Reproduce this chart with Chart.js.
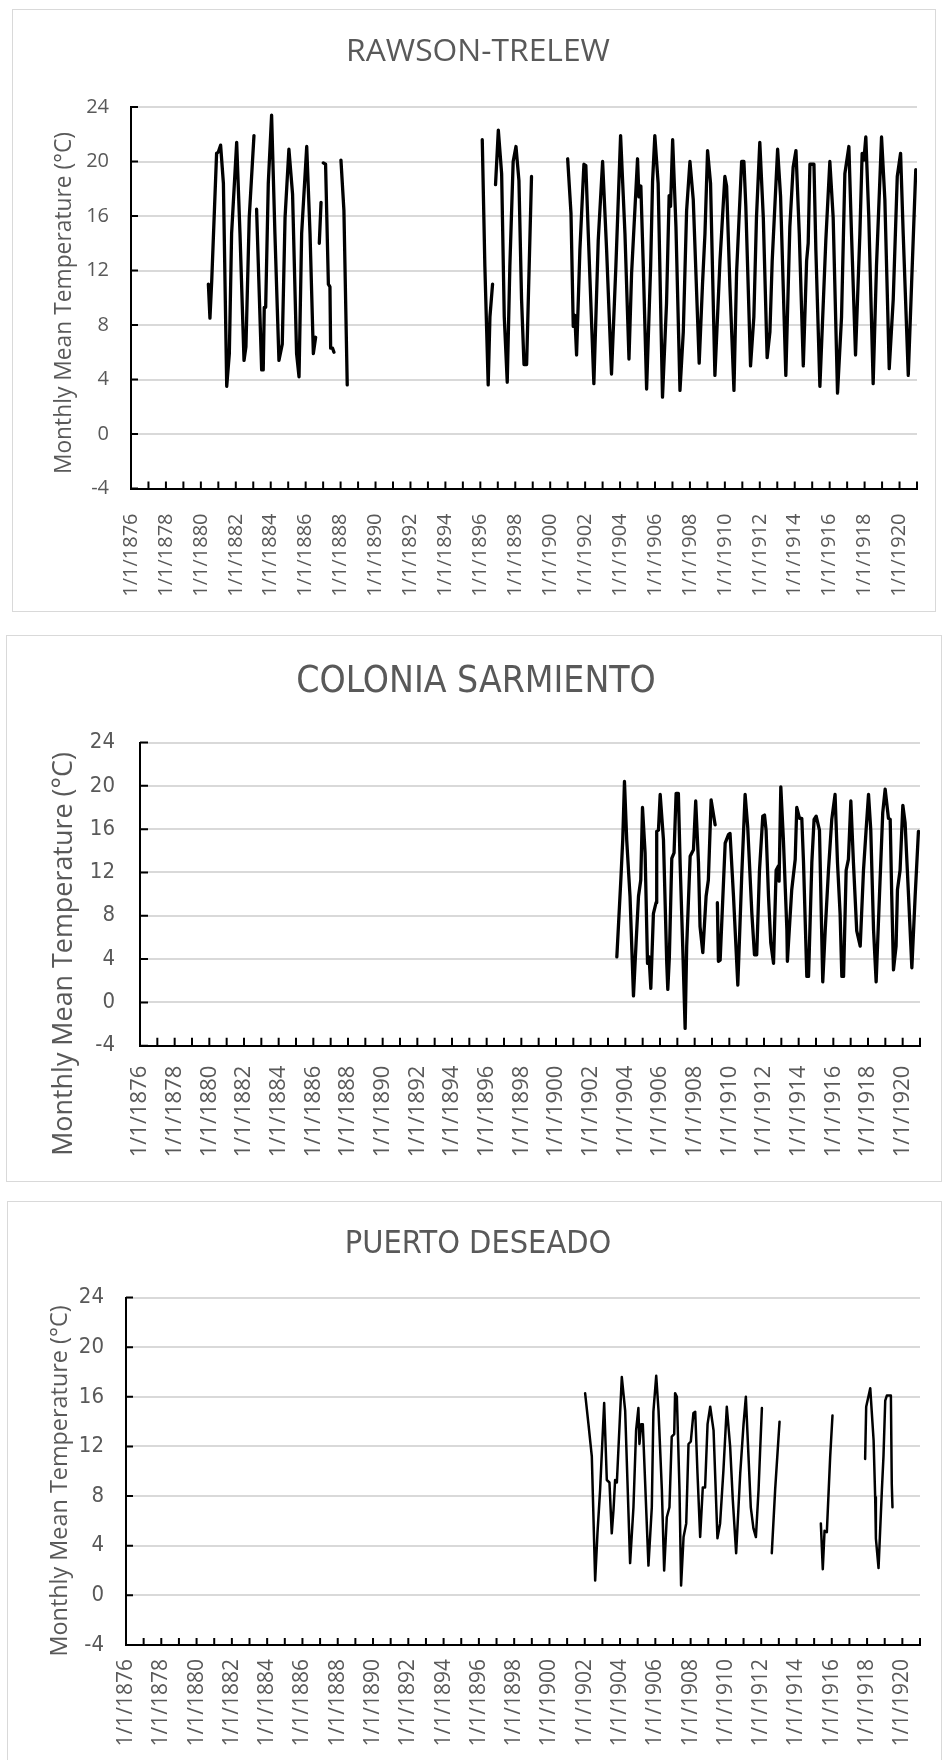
<!DOCTYPE html>
<html>
<head>
<meta charset="utf-8">
<script src="https://cdn.jsdelivr.net/npm/chart.js@4.4.1/dist/chart.umd.min.js"></script>
<style>
  body { margin: 0; background: #fff; }
  #page { position: relative; width: 943px; height: 1760px; overflow: hidden; }
  .frame { position: absolute; border: 1px solid #d9d9d9; box-sizing: border-box; }
  canvas { position: absolute; left: 0; }
</style>
</head>
<body>
<div id="page">
  <div class="frame" style="left:12px;top:9px;width:924px;height:603px"></div>
  <div class="frame" style="left:6px;top:635px;width:936px;height:547px"></div>
  <div class="frame" style="left:7px;top:1201px;width:935px;height:600px"></div>
  <canvas id="c1" width="943" height="620" style="top:0"></canvas>
  <canvas id="c2" width="943" height="570" style="top:620px"></canvas>
  <canvas id="c3" width="943" height="570" style="top:1190px"></canvas>
</div>
<script>
// eje x: etiquetas cada 2 años, marcas cada año
const xTickYears = [1876, 1878, 1880, 1882, 1884, 1886, 1888, 1890, 1892, 1894, 1896, 1898,
    1900, 1902, 1904, 1906, 1908, 1910, 1912, 1914, 1916, 1918, 1920];
const yTickValues = [-4, 0, 4, 8, 12, 16, 20, 24];
const yearMarks = [];
for (let y = 1876; y <= 1921; y++) yearMarks.push(y);

// RAWSON-TRELEW (null = sin datos)
const rawsonYears = [
    1880.43, 1880.52, 1880.62, 1880.90, 1881.00, 1881.13, 1881.29, 1881.48, 1881.63, 1881.76,
    1882.05, 1882.24, 1882.47, 1882.58, 1882.77, 1883.04, 1883.11, 1883.19, 1883.48, 1883.57,
    1883.63, 1883.71, 1883.86, 1884.05, 1884.24, 1884.47, 1884.66, 1884.82, 1885.04, 1885.25,
    1885.48, 1885.62, 1885.77, 1886.06, 1886.25, 1886.44, 1886.57, 1886.67, 1886.78, 1886.88,
    1886.95, 1887.01, 1887.14, 1887.30, 1887.39, 1887.43, 1887.54, 1887.62, 1887.80, 1888.02,
    1888.19, 1888.38, 1892.00, 1896.11, 1896.26, 1896.45, 1896.55, 1896.70, 1896.78, 1896.87,
    1897.03, 1897.22, 1897.37, 1897.54, 1897.69, 1897.88, 1898.04, 1898.21, 1898.36, 1898.50,
    1898.65, 1898.93, 1900.00, 1901.00, 1901.19, 1901.32, 1901.41, 1901.51, 1901.70, 1901.93,
    1902.04, 1902.18, 1902.50, 1902.75, 1903.00, 1903.23, 1903.51, 1903.76, 1904.03, 1904.28,
    1904.51, 1904.66, 1905.00, 1905.08, 1905.19, 1905.33, 1905.52, 1905.75, 1905.86, 1905.99,
    1906.18, 1906.43, 1906.66, 1906.81, 1906.89, 1907.01, 1907.20, 1907.43, 1907.62, 1907.81,
    1908.00, 1908.19, 1908.53, 1908.72, 1908.86, 1909.01, 1909.18, 1909.43, 1909.72, 1910.00,
    1910.10, 1910.29, 1910.52, 1910.67, 1910.96, 1911.09, 1911.20, 1911.47, 1911.66, 1911.81,
    1912.00, 1912.20, 1912.42, 1912.58, 1912.71, 1913.02, 1913.19, 1913.49, 1913.72, 1913.91,
    1914.07, 1914.26, 1914.49, 1914.68, 1914.77, 1914.87, 1915.10, 1915.21, 1915.44, 1915.78,
    1916.01, 1916.20, 1916.45, 1916.68, 1916.87, 1917.10, 1917.25, 1917.48, 1917.73, 1917.86,
    1917.96, 1918.07, 1918.24, 1918.49, 1918.68, 1918.97, 1919.16, 1919.41, 1919.64, 1919.87,
    1920.06, 1920.21, 1920.50, 1920.69, 1920.93
];
const rawsonTemps = [
    11.0, 8.5, 11.2, 20.6, 20.7, 21.2, 18.4, 3.5, 5.9, 14.7,
    21.4, 14.7, 5.4, 6.4, 15.9, 21.9, null, 16.5, 4.7, 4.7,
    9.3, 9.3, 18.4, 23.4, 14.7, 5.4, 6.6, 15.9, 20.9, 17.6,
    5.9, 4.2, 14.7, 21.1, 14.7, 5.9, 7.1, null, 14.0, 17.0,
    null, 19.9, 19.8, 11.0, 10.8, 6.3, 6.3, 6.0, null, 20.1,
    16.4, 3.6, null, 21.6, 12.3, 3.6, 8.6, 11.0, null, 18.3,
    22.3, 19.1, 8.6, 3.8, 12.3, 20.0, 21.1, 18.6, 9.9, 5.1,
    5.1, 18.9, null, 20.2, 16.2, 7.9, 8.7, 5.8, 13.5, 19.8,
    19.7, 14.7, 3.7, 14.2, 20.0, 13.5, 4.4, 12.3, 21.9, 14.7,
    5.5, 11.8, 20.2, 17.4, 18.2, 12.3, 3.3, 12.3, 18.5, 21.9,
    18.4, 2.7, 9.6, 17.5, 16.7, 21.6, 15.2, 3.2, 7.5, 16.4,
    20.0, 17.2, 5.2, 11.0, 14.7, 20.8, 18.4, 4.3, 12.7, 18.9,
    18.2, 10.8, 3.2, 11.8, 20.0, 20.0, 16.7, 5.0, 8.6, 15.9,
    21.4, 15.9, 5.6, 7.5, 12.7, 20.9, 17.4, 4.3, 15.2, 19.6,
    20.8, 14.7, 5.0, 12.7, 14.0, 19.8, 19.8, 13.5, 3.5, 14.2,
    20.0, 15.9, 3.0, 8.6, 19.1, 21.1, 14.7, 5.8, 14.7, 20.6,
    20.1, 21.8, 15.9, 3.7, 12.3, 21.8, 17.2, 4.8, 9.9, 18.9,
    20.6, 14.7, 4.3, 11.0, 19.4
];

// COLONIA SARMIENTO
const sarmientoYears = [
    1903.51, 1903.74, 1903.85, 1903.95, 1904.08, 1904.27, 1904.47, 1904.62, 1904.76, 1904.89,
    1904.99, 1905.14, 1905.28, 1905.37, 1905.47, 1905.62, 1905.77, 1905.81, 1905.91, 1906.01,
    1906.20, 1906.39, 1906.45, 1906.54, 1906.68, 1906.81, 1906.93, 1907.06, 1907.16, 1907.31,
    1907.45, 1907.54, 1907.74, 1907.93, 1908.06, 1908.22, 1908.31, 1908.47, 1908.66, 1908.79,
    1908.95, 1909.18, 1909.25, 1909.31, 1909.37, 1909.47, 1909.76, 1909.95, 1910.04, 1910.24,
    1910.49, 1910.72, 1910.91, 1911.06, 1911.30, 1911.45, 1911.58, 1911.74, 1911.93, 1912.03,
    1912.12, 1912.26, 1912.39, 1912.55, 1912.70, 1912.83, 1912.87, 1912.97, 1913.12, 1913.32,
    1913.35, 1913.60, 1913.80, 1913.89, 1914.05, 1914.18, 1914.28, 1914.47, 1914.57, 1914.76,
    1914.89, 1915.01, 1915.20, 1915.39, 1915.53, 1915.72, 1915.91, 1916.10, 1916.24, 1916.39,
    1916.49, 1916.59, 1916.74, 1916.87, 1917.01, 1917.16, 1917.35, 1917.55, 1917.74, 1917.89,
    1918.03, 1918.16, 1918.32, 1918.47, 1918.66, 1918.85, 1918.99, 1919.18, 1919.28, 1919.37,
    1919.47, 1919.62, 1919.70, 1919.85, 1920.01, 1920.14, 1920.34, 1920.53, 1920.72, 1920.91
];
const sarmientoTemps = [
    4.2, 11.3, 15.0, 20.4, 15.0, 9.8, 0.6, 5.5, 9.8, 11.3,
    18.0, 13.8, 3.6, 4.2, 1.3, 8.2, 9.2, 15.8, 15.9, 19.2,
    15.0, 3.6, 1.2, 4.2, 13.3, 13.8, 19.3, 19.3, 12.9, 5.2,
    -2.4, 5.2, 13.5, 14.1, 18.6, 12.9, 7.0, 4.6, 9.8, 11.3,
    18.7, 16.4, null, 9.2, 3.8, 3.9, 14.7, 15.5, 15.6, 9.8,
    1.6, 11.9, 19.2, 16.2, 8.2, 4.4, 4.4, 12.2, 17.2, 17.3,
    15.9, 9.8, 5.5, 3.6, 12.2, 12.6, 11.2, 19.9, 15.0, 6.7,
    3.8, 10.4, 13.2, 18.0, 17.0, 17.0, 12.9, 2.4, 2.4, 12.9,
    16.9, 17.2, 15.9, 1.9, 6.6, 12.2, 16.9, 19.2, 12.9, 8.2,
    2.4, 2.4, 12.2, 13.2, 18.6, 12.9, 6.6, 5.2, 12.2, 15.9,
    19.2, 15.9, 6.7, 1.9, 9.8, 17.5, 19.7, 17.0, 16.9, 9.8,
    3.0, 5.2, 10.4, 12.2, 18.2, 16.6, 9.8, 3.2, 9.8, 15.8
];

// PUERTO DESEADO
const deseadoYears = [
    1902.02, 1902.21, 1902.40, 1902.59, 1902.72, 1902.87, 1903.10, 1903.25, 1903.40, 1903.53,
    1903.63, 1903.72, 1903.82, 1904.10, 1904.29, 1904.57, 1904.76, 1904.91, 1905.04, 1905.10,
    1905.20, 1905.29, 1905.61, 1905.80, 1905.89, 1906.05, 1906.18, 1906.37, 1906.50, 1906.65,
    1906.80, 1906.93, 1907.07, 1907.12, 1907.22, 1907.37, 1907.46, 1907.60, 1907.75, 1907.88,
    1908.01, 1908.16, 1908.26, 1908.39, 1908.54, 1908.69, 1908.82, 1908.96, 1909.11, 1909.30,
    1909.52, 1909.67, 1909.86, 1910.05, 1910.24, 1910.39, 1910.58, 1910.81, 1911.00, 1911.13,
    1911.28, 1911.41, 1911.56, 1911.70, 1911.85, 1911.94, 1912.04, 1912.30, 1912.60, 1912.79,
    1913.04, 1914.00, 1915.38, 1915.49, 1915.59, 1915.72, 1915.91, 1916.04, 1917.00, 1917.89,
    1917.95, 1918.18, 1918.37, 1918.46, 1918.50, 1918.65, 1918.84, 1918.93, 1919.03, 1919.12,
    1919.35, 1919.40, 1919.44
];
const deseadoTemps = [
    16.3, 13.8, 11.2, 1.2, 5.0, 8.5, 15.5, 9.3, 9.1, 5.0,
    6.9, 9.3, 9.1, 17.6, 14.9, 2.6, 7.1, 13.3, 15.1, 12.2,
    13.8, 13.8, 2.4, 7.1, 14.8, 17.7, 14.9, 8.5, 2.0, 6.3,
    7.1, 12.8, 13.0, 16.3, 16.0, 8.5, 0.8, 4.7, 5.8, 12.2,
    12.4, 14.7, 14.8, 9.8, 4.7, 8.7, 8.7, 13.8, 15.2, 13.3,
    4.6, 5.8, 10.1, 15.2, 12.0, 7.7, 3.4, 9.8, 13.8, 16.0,
    11.2, 7.1, 5.4, 4.7, 8.5, 11.7, 15.1, null, 3.4, 8.5,
    14.0, null, 5.8, 2.1, 5.2, 5.1, 11.2, 14.5, null, 11.0,
    15.2, 16.7, 12.5, 7.9, 4.6, 2.2, 8.5, 11.2, 15.7, 16.1,
    16.1, 9.0, 7.1
];

const yTitle = 'Monthly Mean Temperature (°C)';

function toPoints(years, temps) {
    return years.map((x, i) => ({ x: x, y: temps[i] }));
}

// ajusta el tamaño de letra para que el texto ocupe el ancho medido
function fittedFont(ctx, text, family, width) {
    ctx.font = '100px ' + family;
    const size = 100 * width / ctx.measureText(text).width;
    return size.toFixed(1) + 'px ' + family;
}

// marcas hacia adentro + títulos
const panelDecor = {
    id: 'panelDecor',
    afterDraw(chart, args, o) {
        const ctx = chart.ctx;
        const { left, bottom } = chart.chartArea;
        const xs = chart.scales.x;
        const ys = chart.scales.y;
        ctx.save();
        ctx.strokeStyle = '#000';
        ctx.lineWidth = o.tickWidth;
        ctx.beginPath();
        yearMarks.forEach((v) => {
            const px = xs.getPixelForValue(v);
            ctx.moveTo(px, bottom);
            ctx.lineTo(px, bottom - o.tickLen);
        });
        yTickValues.forEach((v) => {
            const py = ys.getPixelForValue(v);
            ctx.moveTo(left, py);
            ctx.lineTo(left + o.tickLen, py);
        });
        ctx.stroke();

        ctx.fillStyle = '#595959';
        ctx.textAlign = 'center';
        ctx.textBaseline = 'middle';
        ctx.font = fittedFont(ctx, o.title, o.titleFont, o.titleWidth);
        ctx.fillText(o.title, o.titleX, o.titleY);

        ctx.translate(o.yTitleX, o.yTitleY);
        ctx.rotate(-Math.PI / 2);
        ctx.font = fittedFont(ctx, yTitle, o.yTitleFont, o.yTitleLen);
        ctx.fillText(yTitle, 0, 0);
        ctx.restore();
    }
};

function makeChart(id, points, p) {
    new Chart(document.getElementById(id), {
        type: 'line',
        data: {
            datasets: [{
                data: points,
                borderColor: '#000',
                borderWidth: p.lineWidth,
                borderJoinStyle: 'round',
                borderCapStyle: 'round',
                pointRadius: 0,
                tension: 0,
                spanGaps: false
            }]
        },
        options: {
            responsive: false,
            animation: false,
            devicePixelRatio: 1,
            events: [],
            layout: { padding: { left: 0, top: p.top, right: p.right, bottom: 0 } },
            plugins: {
                legend: { display: false },
                tooltip: { enabled: false },
                panelDecor: p.decor
            },
            scales: {
                x: {
                    type: 'linear',
                    min: 1876,
                    max: 1921,
                    afterBuildTicks: (s) => { s.ticks = xTickYears.map((v) => ({ value: v })); },
                    afterFit: (s) => {
                        s.height = p.xHeight;
                        s.paddingLeft = 0;
                        s.paddingRight = 0;
                    },
                    grid: { display: false, drawTicks: false },
                    border: { display: true, color: '#000', width: 2 },
                    ticks: {
                        autoSkip: false,
                        maxRotation: 90,
                        minRotation: 90,
                        padding: p.xPad,
                        color: '#595959',
                        font: { family: 'Open Sans', size: p.xFont },
                        callback: (v) => '1/1/' + v
                    }
                },
                y: {
                    min: -4,
                    max: 24,
                    afterBuildTicks: (s) => { s.ticks = yTickValues.map((v) => ({ value: v })); },
                    afterFit: (s) => { s.width = p.yWidth; },
                    grid: { color: '#d9d9d9', lineWidth: 2, drawTicks: false },
                    border: { display: true, color: '#000', width: 2 },
                    ticks: {
                        padding: p.yPad,
                        color: '#595959',
                        font: { family: p.yFontFamily, size: p.yFont }
                    }
                }
            }
        },
        plugins: [panelDecor]
    });
}

makeChart('c1', toPoints(rawsonYears, rawsonTemps), {
    lineWidth: 3.3, top: 107, right: 26, xHeight: 131.5, yWidth: 131,
    xPad: 25, xFont: 20, yPad: 22, yFont: 20, yFontFamily: 'Open Sans',
    decor: {
        tickLen: 7, tickWidth: 2,
        title: 'RAWSON-TRELEW', titleFont: 'Open Sans', titleWidth: 264, titleX: 478, titleY: 52,
        yTitleFont: 'Open Sans', yTitleLen: 342, yTitleX: 65, yTitleY: 303
    }
});

makeChart('c2', toPoints(sarmientoYears, sarmientoTemps), {
    lineWidth: 3.3, top: 122.5, right: 23, xHeight: 144.3, yWidth: 140,
    xPad: 20, xFont: 22, yPad: 25, yFont: 22, yFontFamily: '"Liberation Sans Narrow", "DejaVu Sans Condensed", sans-serif',
    decor: {
        tickLen: 8, tickWidth: 2,
        title: 'COLONIA SARMIENTO', titleFont: '"Liberation Sans Narrow", "DejaVu Sans Condensed", sans-serif',
        titleWidth: 360, titleX: 476, titleY: 62,
        yTitleFont: 'Open Sans', yTitleLen: 404, yTitleX: 64, yTitleY: 334
    }
});

makeChart('c3', toPoints(deseadoYears, deseadoTemps), {
    lineWidth: 2.5, top: 107.6, right: 23, xHeight: 115, yWidth: 126,
    xPad: 14, xFont: 21, yPad: 22, yFont: 22, yFontFamily: '"Liberation Sans Narrow", "DejaVu Sans Condensed", sans-serif',
    decor: {
        tickLen: 7, tickWidth: 2,
        title: 'PUERTO DESEADO', titleFont: '"Liberation Sans Narrow", "DejaVu Sans Condensed", sans-serif',
        titleWidth: 267, titleX: 478, titleY: 55,
        yTitleFont: 'Open Sans', yTitleLen: 351, yTitleX: 60, yTitleY: 291
    }
});
</script>
</body>
</html>
